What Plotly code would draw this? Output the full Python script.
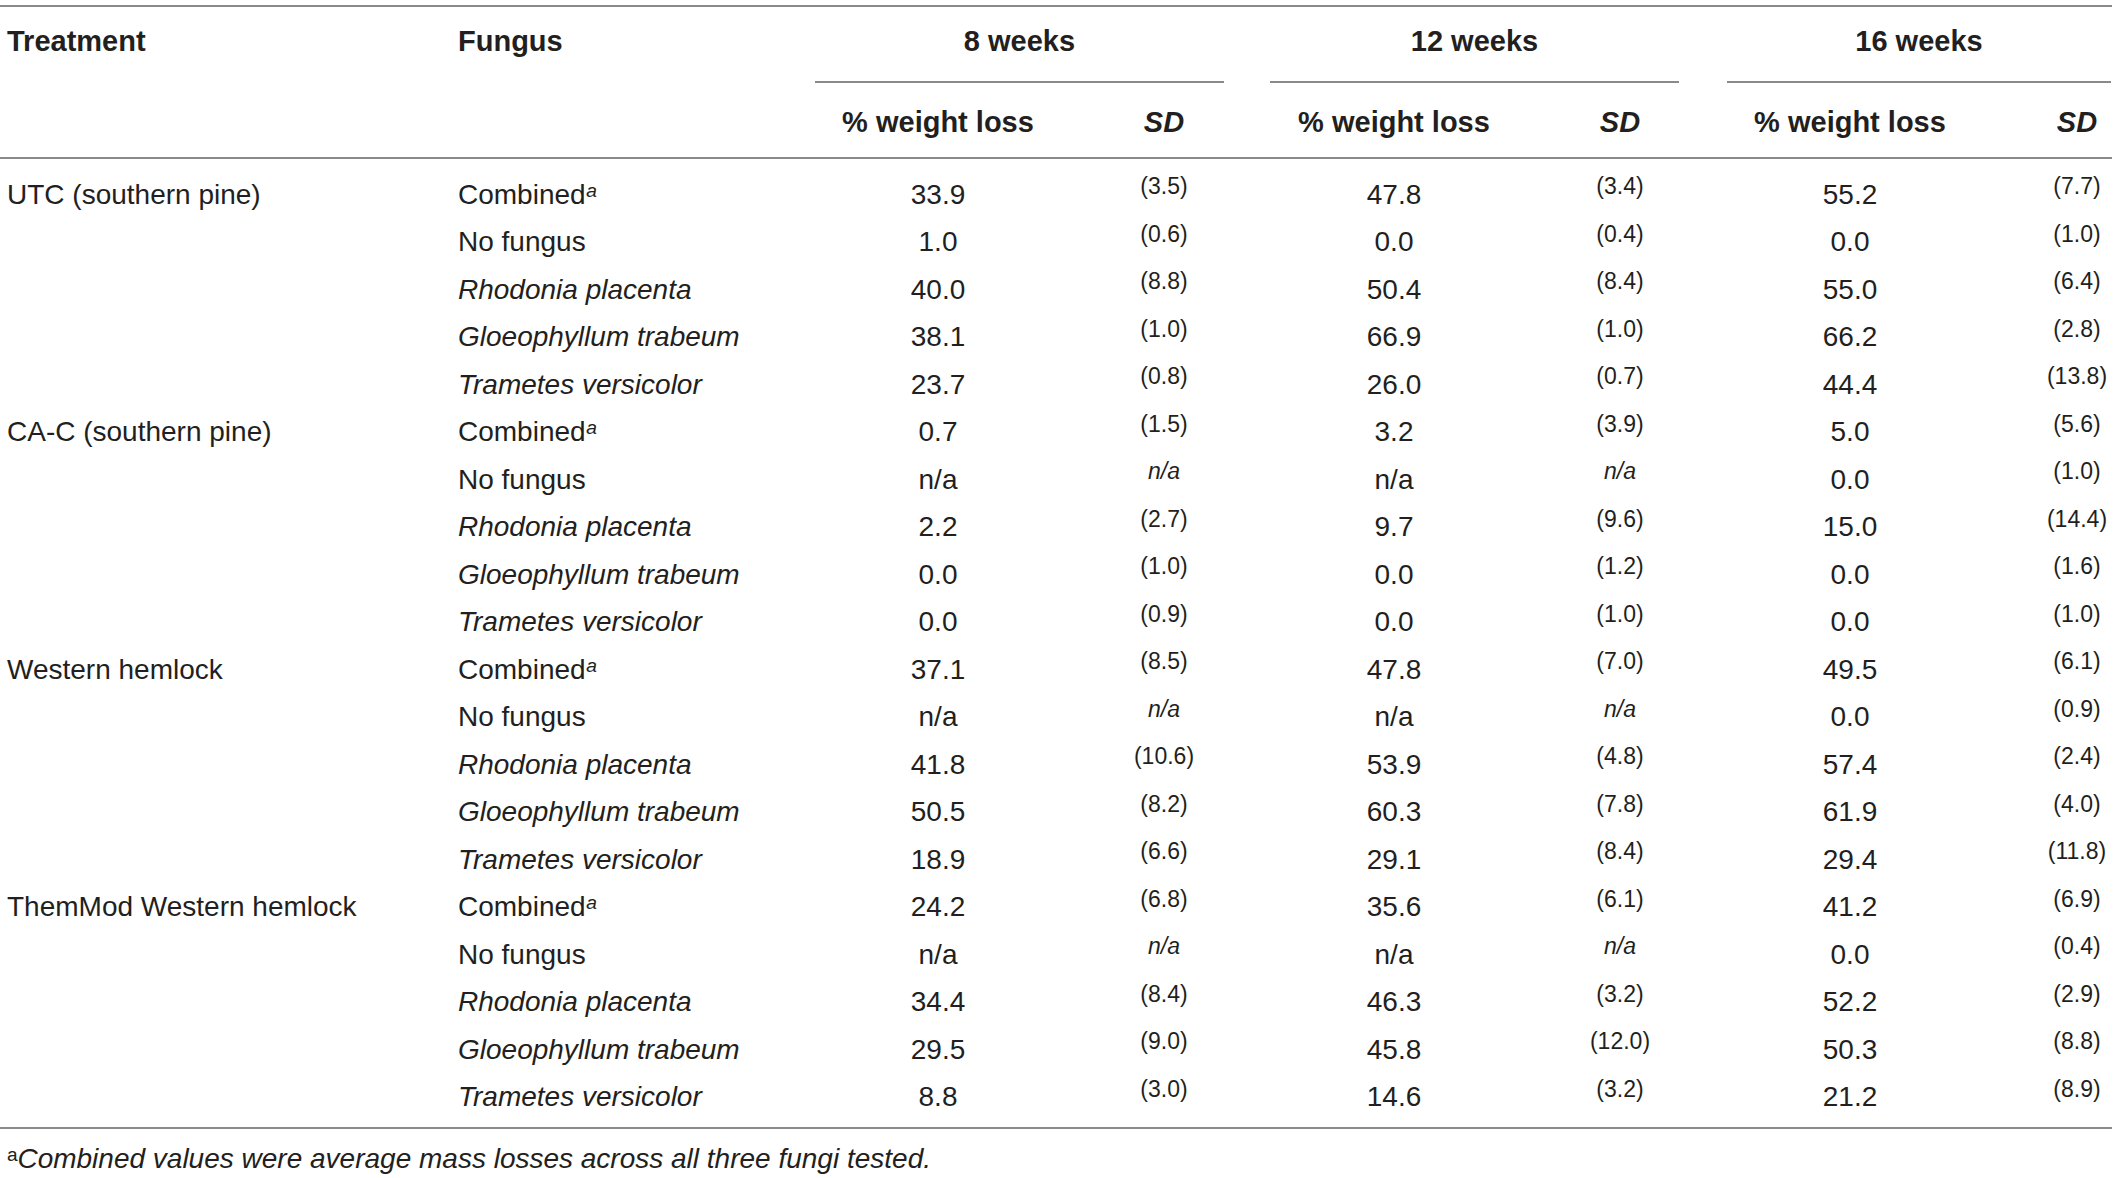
import plotly.graph_objects as go

# table data
treatments = ["UTC (southern pine)", "CA-C (southern pine)", "Western hemlock", "ThemMod Western hemlock"]
fungi = ["Combined", "No fungus", "Rhodonia placenta", "Gloeophyllum trabeum", "Trametes versicolor"]
weeks = ["8 weeks", "12 weeks", "16 weeks"]

wl_8 = [33.9, 1.0, 40.0, 38.1, 23.7, 0.7, None, 2.2, 0.0, 0.0,
        37.1, None, 41.8, 50.5, 18.9, 24.2, None, 34.4, 29.5, 8.8]
sd_8 = [3.5, 0.6, 8.8, 1.0, 0.8, 1.5, None, 2.7, 1.0, 0.9,
        8.5, None, 10.6, 8.2, 6.6, 6.8, None, 8.4, 9.0, 3.0]
wl_12 = [47.8, 0.0, 50.4, 66.9, 26.0, 3.2, None, 9.7, 0.0, 0.0,
         47.8, None, 53.9, 60.3, 29.1, 35.6, None, 46.3, 45.8, 14.6]
sd_12 = [3.4, 0.4, 8.4, 1.0, 0.7, 3.9, None, 9.6, 1.2, 1.0,
         7.0, None, 4.8, 7.8, 8.4, 6.1, None, 3.2, 12.0, 3.2]
wl_16 = [55.2, 0.0, 55.0, 66.2, 44.4, 5.0, 0.0, 15.0, 0.0, 0.0,
         49.5, 0.0, 57.4, 61.9, 29.4, 41.2, 0.0, 52.2, 50.3, 21.2]
sd_16 = [7.7, 1.0, 6.4, 2.8, 13.8, 5.6, 1.0, 14.4, 1.6, 1.0,
         6.1, 0.9, 2.4, 4.0, 11.8, 6.9, 0.4, 2.9, 8.8, 8.9]

footnote = "Combined values were average mass losses across all three fungi tested."

# layout (pixel units)
W, H = 2118, 1178
ROW0, ROW_H = 196.5, 47.5
X_TREAT, X_FUNGUS = 7, 458
X_VAL = [938, 1394, 1850]
X_SD = [1164, 1620, 2077]
X_SPAN = [(815, 1224), (1270, 1679), (1727, 2111)]
FONT = "Liberation Sans, Arial, Helvetica, sans-serif"
INK = "#231f20"
RULE = "#8a8a8a"
SUP_A = "\u1d43"  # modifier small a, used as the footnote mark

n_rows = len(treatments) * len(fungi)
row_y = [ROW0 + i * ROW_H for i in range(n_rows)]


def fungus_label(name):
    if name == "Combined":
        return "Combined<i>" + SUP_A + "</i>"
    if name == "No fungus":
        return name
    return "<i>" + name + "</i>"


def fmt_val(v):
    return "n/a" if v is None else f"{v:.1f}"


def fmt_sd(v):
    return "<i>n/a</i>" if v is None else f"({v:.1f})"


fig = go.Figure()


def add_text(xs, ys, texts, pos, size, color=INK):
    fig.add_trace(go.Scatter(
        x=xs, y=ys, text=texts, mode="text", textposition=pos,
        textfont=dict(family=FONT, size=size, color=color),
        hoverinfo="skip", showlegend=False))


# header
add_text([X_TREAT, X_FUNGUS], [43.5, 43.5], ["<b>Treatment</b>", "<b>Fungus</b>"], "middle right", 29)
add_text([(a + b) / 2 for a, b in X_SPAN], [43.5] * 3, ["<b>%s</b>" % w for w in weeks], "middle center", 29)
add_text(X_VAL, [124.5] * 3, ["<b>% weight loss</b>"] * 3, "middle center", 29)
add_text(X_SD, [124.5] * 3, ["<b><i>SD</i></b>"] * 3, "middle center", 29)

# body
treat_rows = [row_y[i * len(fungi)] for i in range(len(treatments))]
fungus_col = [fungus_label(fungi[i % len(fungi)]) for i in range(n_rows)]
add_text([X_TREAT] * len(treatments), treat_rows, treatments, "middle right", 28)
add_text([X_FUNGUS] * n_rows, row_y, fungus_col, "middle right", 28)

for k, (vals, sds) in enumerate([(wl_8, sd_8), (wl_12, sd_12), (wl_16, sd_16)]):
    add_text([X_VAL[k]] * n_rows, row_y, [fmt_val(v) for v in vals], "middle center", 28)
    add_text([X_SD[k]] * n_rows, [y - 8 for y in row_y], [fmt_sd(v) for v in sds], "middle center", 23)

# footnote
add_text([X_TREAT], [1161], [SUP_A + "<i>" + footnote + "</i>"], "middle right", 28)

# rules
rules = [(0, W - 6, 6), (0, W - 6, 158), (0, W - 6, 1128)] + [(a, b, 82) for a, b in X_SPAN]
for x0, x1, y in rules:
    fig.add_shape(type="line", x0=x0, x1=x1, y0=y, y1=y, xref="x", yref="y",
                  line=dict(color=RULE, width=2))

fig.update_layout(
    width=W, height=H, margin=dict(l=0, r=0, t=0, b=0),
    paper_bgcolor="white", plot_bgcolor="white",
    xaxis=dict(range=[0, W], visible=False, fixedrange=True),
    yaxis=dict(range=[H, 0], visible=False, fixedrange=True),
)
fig.write_html("out.html", config={"displayModeBar": False},
               post_script="document.body.style.margin='0';")
